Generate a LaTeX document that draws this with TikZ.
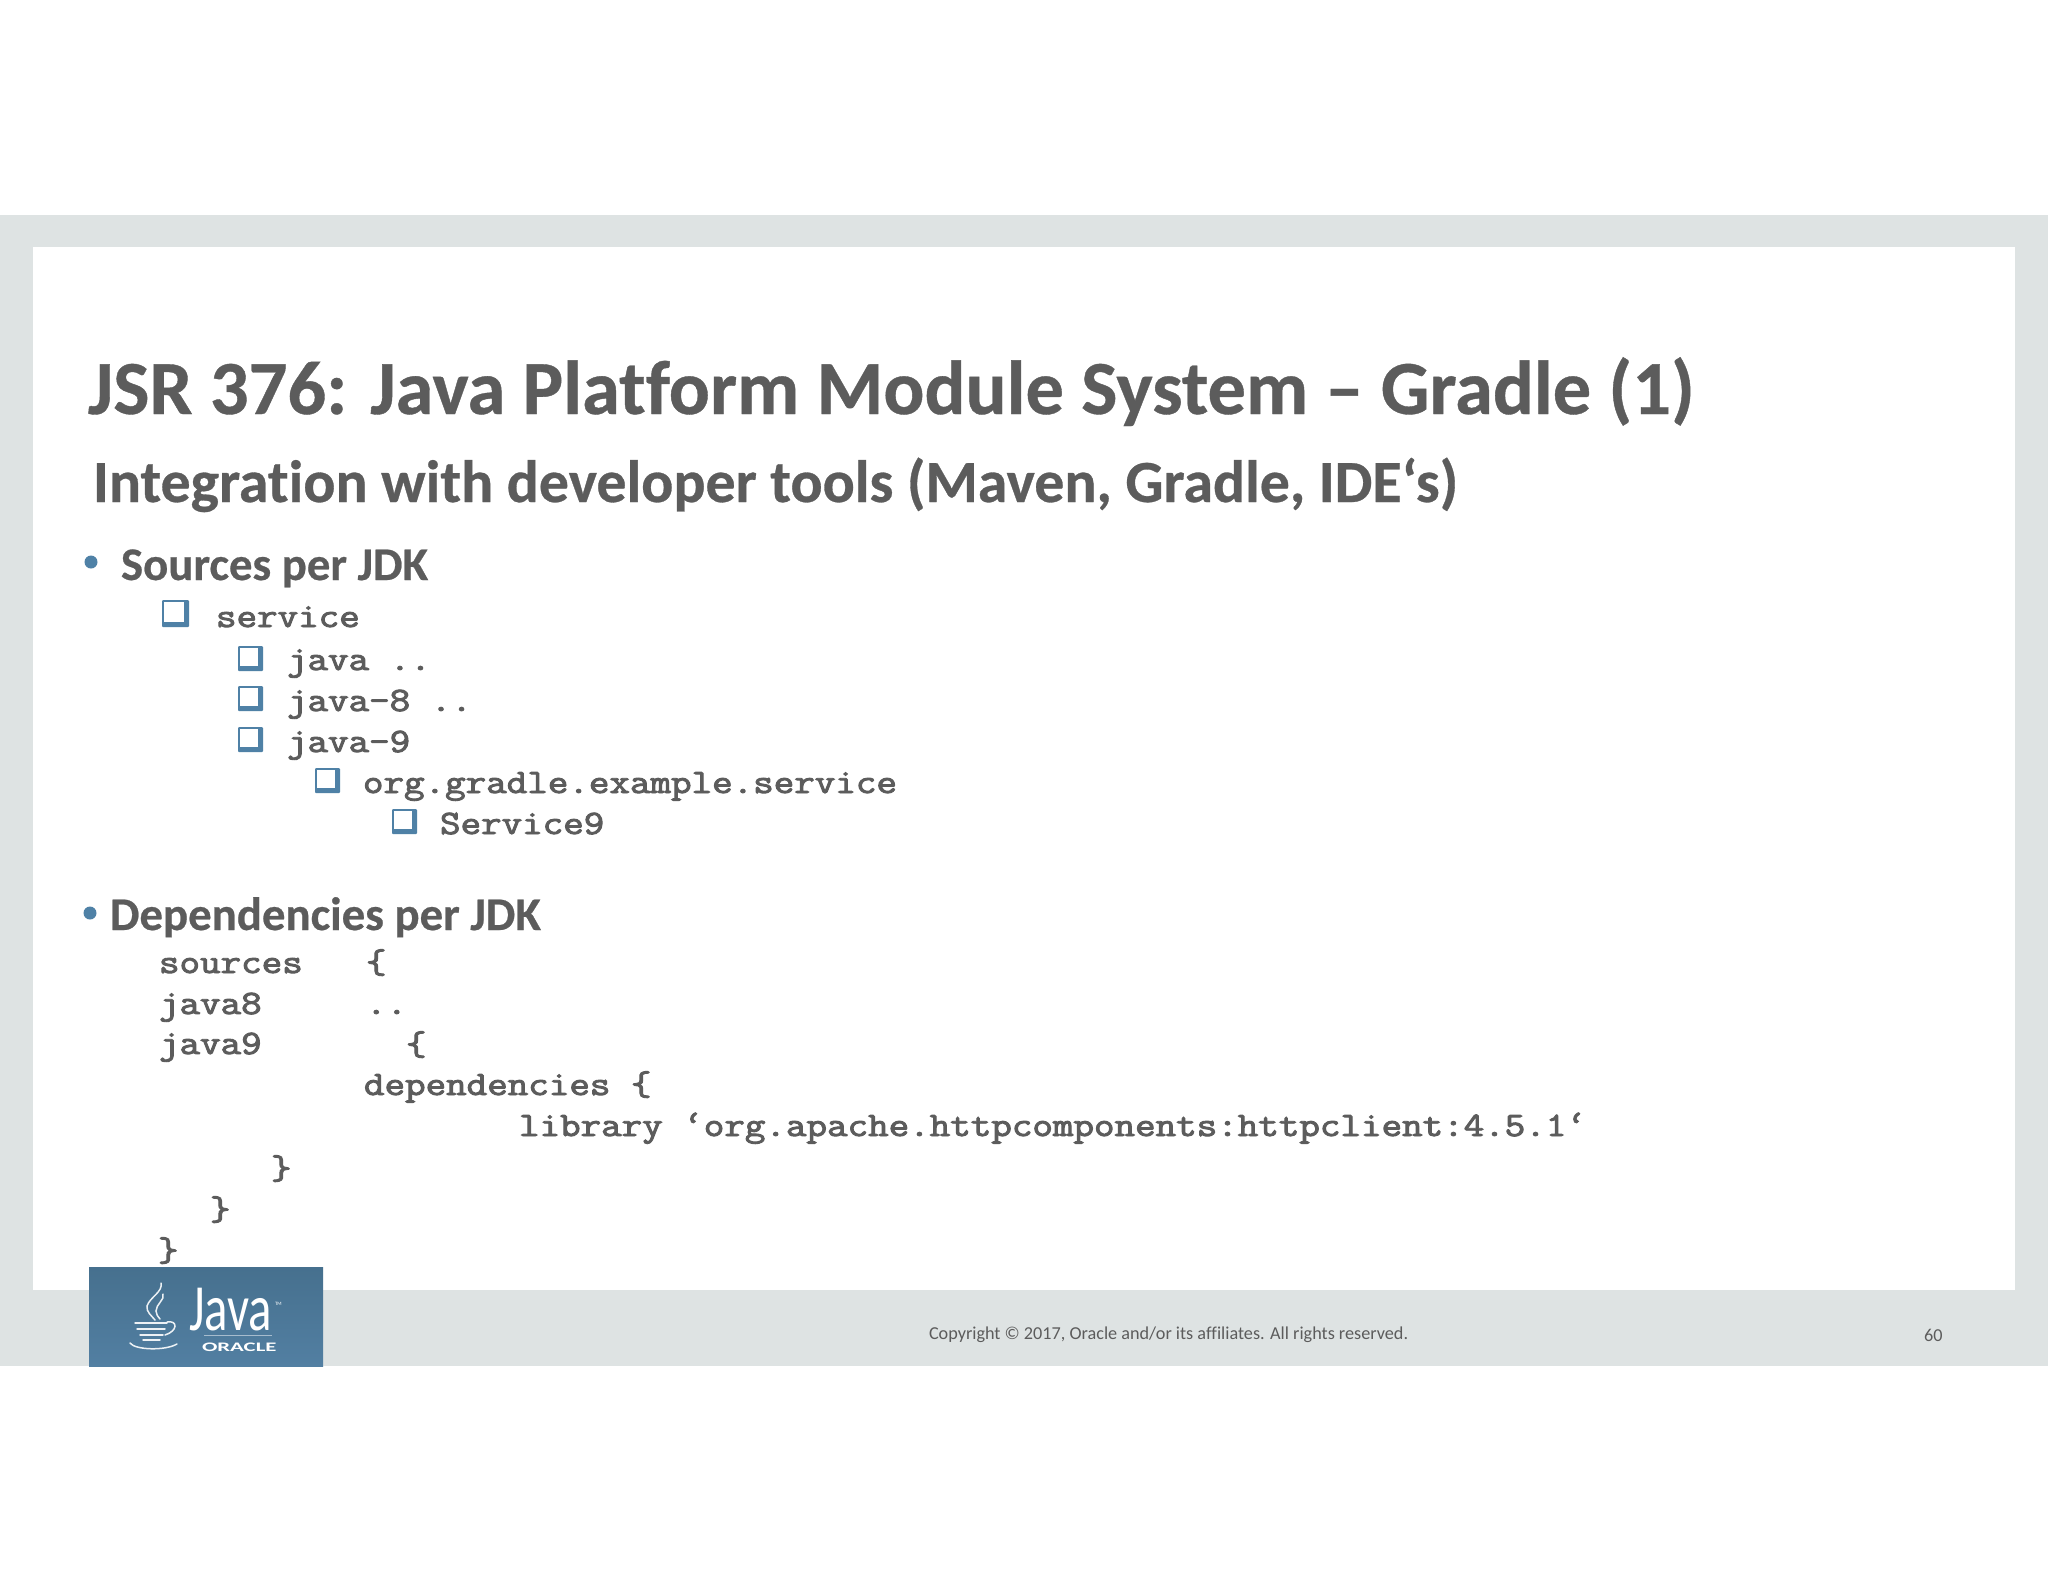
\documentclass[tikz,border=0pt]{standalone}
\usepackage{fontspec}
\setmainfont[Ligatures=CommonOff]{Carlito}
\newfontfamily\codefont[FakeBold=2.6]{Latin Modern Mono}
\newfontfamily\headfont[Ligatures=CommonOff,FakeBold=0.5]{Carlito Bold}
\usetikzlibrary{calc}
\definecolor{txt}{HTML}{5C5C5C}
\definecolor{band}{HTML}{DEE3E3}
\definecolor{blu}{HTML}{4F81A6}
\definecolor{logotop}{HTML}{46708E}
\definecolor{logobot}{HTML}{527FA2}
\newcommand{\chkbox}[3]{%
  \fill[blu,rounded corners=1pt] (#1,#2) rectangle ++(#3,#3);
  \fill[white] ($(#1,#2)+(.07*#3,.07*#3)$) rectangle ($(#1,#2)+(.8*#3,.8*#3)$);
}
\tikzset{
  x=1pt,y=-1pt,
  every node/.style={inner sep=0pt,outer sep=0pt,text=txt,anchor=base west},
  titletext/.style={font=\fontsize{76.5}{76}\selectfont\headfont},
  subtext/.style={font=\fontsize{59.8}{59}\selectfont\headfont},
  headtext/.style={font=\fontsize{46.8}{46}\selectfont\headfont},
  codetext/.style={font=\fontsize{34.2}{34.2}\selectfont\codefont,xscale=1.166,transform shape},
  foottext/.style={font=\fontsize{18.2}{18}\selectfont},
  logotext/.style={text=white},
}
\begin{document}
\begin{tikzpicture}
\useasboundingbox (0,0) rectangle (2048,1582);
\fill[white] (0,0) rectangle (2048,1582);
\fill[band] (0,215) rectangle (2048,1366);
\fill[white] (33,247) rectangle (2015,1290);
% title
\node[titletext] (title) at (88,414) {JSR 376: Java Platform Module System – Gradle (1)};
\node[subtext] (sub) at (93,502) {Integration with developer tools (Maven, Gradle, IDE‘s)};
% sources
\fill[blu] (91,562) circle (6.5);
\node[headtext] (h1) at (121,580) {Sources per JDK};
\chkbox{162}{600}{27}
\node[codetext] (c1) at (216,627) {service};
\chkbox{238}{646}{25}
\node[codetext] (c2) at (287,670) {java ..};
\chkbox{238}{686}{25}
\node[codetext] (c3) at (287,711) {java-8 ..};
\chkbox{238}{727}{25}
\node[codetext] (c4) at (287,752) {java-9};
\chkbox{315}{768}{25}
\node[codetext] (c5) at (363,793) {org.gradle.example.service};
\chkbox{392}{809}{25}
\node[codetext] (c6) at (440,834) {Service9};
% dependencies
\fill[blu] (90,913) circle (6.5);
\node[headtext] (h2) at (110,930) {Dependencies per JDK};
\node[codetext] (d1) at (159,973) {sources};
\node[codetext] (d1b) at (366,973) {\{};
\node[codetext] (d2) at (159,1014) {java8};
\node[codetext] (d2b) at (366,1014) {..};
\node[codetext] (d3) at (159,1054) {java9};
\node[codetext] (d3b) at (406,1055) {\{};
\node[codetext] (d4) at (364,1095) {dependencies \{};
\node[codetext] (d5) at (519,1136) {library ‘org.apache.httpcomponents:httpclient:4.5.1‘};
\node[codetext] (d6) at (271,1179) {\}};
\node[codetext] (d7) at (210,1220) {\}};
\node[codetext] (d8) at (158,1261) {\}};
% logo
\shade[top color=logotop,bottom color=logobot] (89,1267) rectangle (323,1366);
\node[logotext,font=\fontsize{66}{66}\selectfont,xscale=.74,transform shape] (jv) at (189,1330) {Java};
\node[logotext,font=\fontsize{5}{5}\selectfont] (tm) at (275,1305) {TM};
\node[logotext,font=\fontsize{13}{13}\selectfont\bfseries,xscale=1.75,transform shape] (orc) at (202,1351) {ORACLE};
\draw[white,opacity=.5,line width=.6pt] (204,1335) -- (272,1335);
\begin{scope}[white,line width=1.5pt,line cap=round,opacity=.9]
\draw (161,1283) .. controls (163,1292) and (150,1297) .. (147,1306) .. controls (146,1312) and (152,1316) .. (155,1320);
\draw (163,1294) .. controls (165,1300) and (156,1304) .. (156,1311) .. controls (156,1314) and (158,1317) .. (160,1319);
\draw (135,1323) -- (167,1323);
\draw (137,1329) -- (165,1329);
\draw (140,1335) -- (163,1335);
\draw (143,1340) -- (160,1340);
\draw (167,1322) .. controls (178,1320) and (178,1331) .. (165,1335);
\draw (130,1343) .. controls (135,1350) and (165,1351) .. (177,1344);
\end{scope}
% footer
\node[foottext] (copy) at (929,1339) {Copyright © 2017, Oracle and/or its affiliates. All rights reserved.};
\node[foottext] (pg) at (1924,1341) {60};
\end{tikzpicture}
\end{document}
